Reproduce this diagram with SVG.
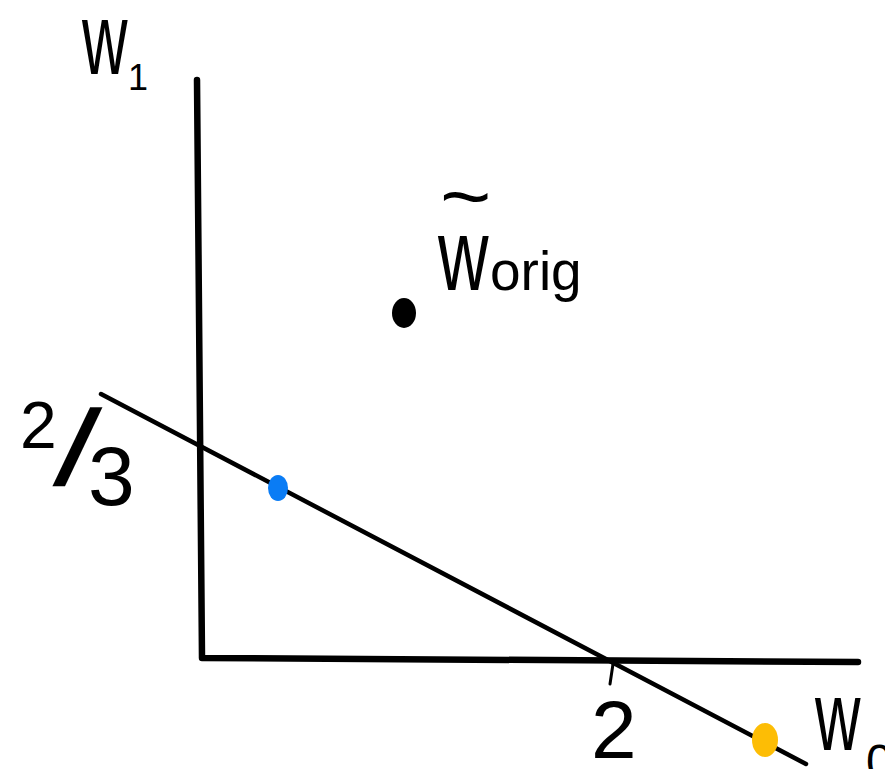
<svg xmlns="http://www.w3.org/2000/svg" width="885" height="769" viewBox="0 0 885 769">
<style>
.t{font-family:"Liberation Sans",Arial,sans-serif;fill:#000}
.ax{stroke:#000;stroke-width:6.5;fill:none;stroke-linecap:round;stroke-linejoin:round}
.ln{stroke:#000;stroke-width:4.5;fill:none;stroke-linecap:round}
</style>
<rect width="885" height="769" fill="#fff"/>
<g id="axes">
<path class="ax" d="M197,80 L202,658 L858,662"/>
<path class="ax" d="M613,664 L610,684" style="stroke-width:3"/>
</g>
<g id="constraint-line">
<path class="ln" d="M101,394 L806,764"/>
</g>
<g id="point-orig">
<ellipse cx="404" cy="313" rx="12" ry="15" fill="#000"/>
</g>
<g id="point-blue">
<ellipse cx="278" cy="488" rx="10" ry="13" fill="#0a7cf5"/>
</g>
<g id="point-yellow">
<ellipse cx="765" cy="740" rx="13" ry="17" fill="#fdbd05"/>
</g>
<g id="labels">
<text class="t" transform="translate(82,74) scale(0.9,1.45)" font-size="70">w</text>
<text class="t" x="128" y="90" font-size="36">1</text>
<text class="t" transform="translate(440,224) scale(1.1,1)" font-size="80">~</text>
<text class="t" transform="translate(438,290) scale(1,1.45)" font-size="70">w</text>
<text class="t" x="490" y="290" font-size="55">orig</text>
<text class="t" x="20" y="448" font-size="66">2</text>
<text class="t" transform="translate(52,484) skewX(-16)" font-size="106" font-weight="bold">/</text>
<text class="t" x="88" y="505" font-size="84">3</text>
<text class="t" x="591" y="758" font-size="82">2</text>
<text class="t" transform="translate(815,750) scale(0.9,1.4)" font-size="70">w</text>
<text class="t" x="866" y="778" font-size="48">0</text>
</g>
</svg>
